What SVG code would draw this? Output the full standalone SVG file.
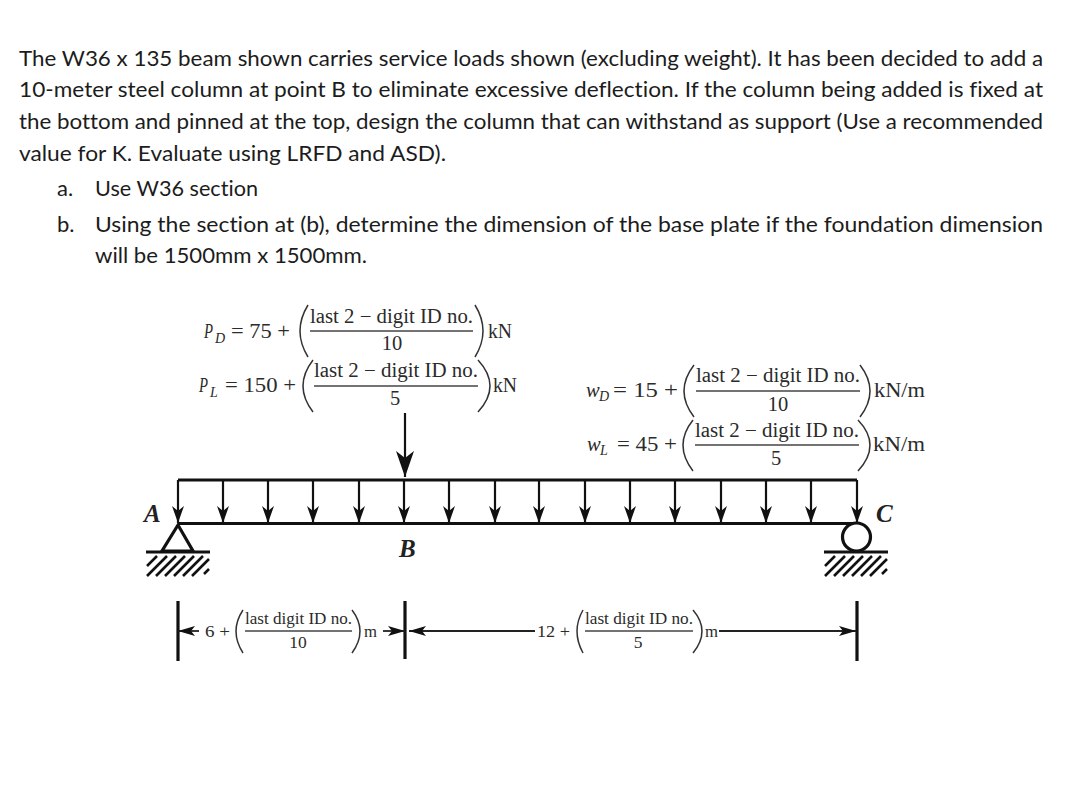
<svg xmlns="http://www.w3.org/2000/svg" width="1080" height="796" viewBox="0 0 1080 796">
<style>
.body{font-family:"Lato","Open Sans",sans-serif;font-size:22px;fill:#1c1c1c;font-variant-ligatures:none}
.eq{font-family:"Liberation Serif",serif;font-size:20.5px;fill:#2b2b2b}
.dim{font-family:"Liberation Serif",serif;font-size:17.5px;fill:#2b2b2b}
.it{font-style:italic}
.sub{font-family:"Liberation Serif",serif;font-style:italic;font-size:14px;fill:#2b2b2b}
.lab{font-family:"Liberation Serif",serif;font-style:italic;font-weight:bold;font-size:25px;fill:#222}
.mid{text-anchor:middle}
.frac{stroke:#444;stroke-width:1.3;fill:none}
.paren{stroke:#333;stroke-width:1.5;fill:none}
.bar{stroke:#111;stroke-width:3;fill:none}
.load{stroke:#111;stroke-width:2.2;fill:none;marker-end:url(#barb)}
.thick{stroke:#111;stroke-width:3.2;fill:none}
.dimline{stroke:#222;stroke-width:1.8;fill:none}
.hatch{stroke:#111;stroke-width:2.6;fill:none}
</style>
<defs>
<marker id="barb" markerUnits="userSpaceOnUse" markerWidth="20" markerHeight="16" refX="17" refY="7" orient="auto"><path d="M17 7L0 1L5 7L0 13Z" fill="#111"/></marker>
<marker id="barbBig" markerUnits="userSpaceOnUse" markerWidth="28" markerHeight="20" refX="26" refY="10" orient="auto"><path d="M26 10L0 1L7 10L0 19Z" fill="#111"/></marker>
<marker id="dimHead" markerUnits="userSpaceOnUse" markerWidth="20" markerHeight="12" refX="17" refY="6" orient="auto"><path d="M17 6L0 1L4 6L0 11Z" fill="#111"/></marker>
</defs>
<rect width="1080" height="796" fill="#fff"/>

<g id="problem-text">
<text class="body" x="19" y="66" textLength="1024" lengthAdjust="spacingAndGlyphs">The W36 x 135 beam shown carries service loads shown (excluding weight). It has been decided to add a</text>
<text class="body" x="19" y="97" textLength="1024" lengthAdjust="spacingAndGlyphs">10-meter steel column at point B to eliminate excessive deflection. If the column being added is fixed at</text>
<text class="body" x="19" y="128.500" textLength="1024" lengthAdjust="spacingAndGlyphs">the bottom and pinned at the top, design the column that can withstand as support (Use a recommended</text>
<text class="body" x="19" y="161" textLength="427" lengthAdjust="spacingAndGlyphs">value for K. Evaluate using LRFD and ASD).</text>
<text class="body" x="57" y="196">a.</text>
<text class="body" x="95" y="196" textLength="163" lengthAdjust="spacingAndGlyphs">Use W36 section</text>
<text class="body" x="57" y="232">b.</text>
<text class="body" x="95" y="232" textLength="948" lengthAdjust="spacingAndGlyphs">Using the section at (b), determine the dimension of the base plate if the foundation dimension</text>
<text class="body" x="95" y="263" textLength="272" lengthAdjust="spacingAndGlyphs">will be 1500mm x 1500mm.</text>
</g>

<g id="eq-pd">
<text class="eq it" x="204" y="338" textLength="9" lengthAdjust="spacingAndGlyphs">P</text><text class="sub" x="215" y="343">D</text>
<text class="eq" x="231" y="338" textLength="59" lengthAdjust="spacingAndGlyphs">= 75 +</text>
<path class="paren" d="M308 305Q292 331 308 357"/>
<text class="eq" x="310" y="323" textLength="163" lengthAdjust="spacingAndGlyphs">last 2 − digit ID no.</text>
<path class="frac" d="M310 331H473"/>
<text class="eq mid" x="392" y="350">10</text>
<path class="paren" d="M475 305Q491 331 475 357"/>
<text class="eq" x="488" y="338" textLength="24" lengthAdjust="spacingAndGlyphs">kN</text>
</g>
<g id="eq-pl">
<text class="eq it" x="199" y="392" textLength="9" lengthAdjust="spacingAndGlyphs">P</text><text class="sub" x="210" y="397">L</text>
<text class="eq" x="225" y="392" textLength="71" lengthAdjust="spacingAndGlyphs">= 150 +</text>
<path class="paren" d="M313 360Q293 386 313 412"/>
<text class="eq" x="314" y="377" textLength="164" lengthAdjust="spacingAndGlyphs">last 2 − digit ID no.</text>
<path class="frac" d="M314 386H478"/>
<text class="eq mid" x="395" y="405">5</text>
<path class="paren" d="M478 360Q502 386 478 412"/>
<text class="eq" x="493" y="392" textLength="24" lengthAdjust="spacingAndGlyphs">kN</text>
</g>
<g id="eq-wd">
<text class="eq it" x="586" y="397">w</text><text class="sub" x="599" y="401">D</text>
<text class="eq" x="613" y="397" textLength="65" lengthAdjust="spacingAndGlyphs">= 15 +</text>
<path class="paren" d="M694 365Q674 391 694 417"/>
<text class="eq" x="696" y="382" textLength="164" lengthAdjust="spacingAndGlyphs">last 2 − digit ID no.</text>
<path class="frac" d="M696 391H860"/>
<text class="eq mid" x="778" y="411">10</text>
<path class="paren" d="M860 365Q880 391 860 417"/>
<text class="eq" x="874" y="397" textLength="51" lengthAdjust="spacingAndGlyphs">kN/m</text>
</g>
<g id="eq-wl">
<text class="eq it" x="587" y="451">w</text><text class="sub" x="600" y="455">L</text>
<text class="eq" x="617" y="451" textLength="60" lengthAdjust="spacingAndGlyphs">= 45 +</text>
<path class="paren" d="M693 420Q673 445 693 471"/>
<text class="eq" x="695" y="437" textLength="164" lengthAdjust="spacingAndGlyphs">last 2 − digit ID no.</text>
<path class="frac" d="M695 445H859"/>
<text class="eq mid" x="776" y="465">5</text>
<path class="paren" d="M858 420Q882 445 858 471"/>
<text class="eq" x="873" y="451" textLength="52" lengthAdjust="spacingAndGlyphs">kN/m</text>
</g>

<g id="beam"><path class="thick" d="M178 523.500H857"/></g>
<g id="support-a">
<path class="thick" d="M178 525L162 551H193Z"/>
<path class="thick" d="M146 552H210"/>
<path class="hatch" d="M147 566L157 556M147 576L167 556M156 576L176 556M165 576L185 556M174 576L194 556M183 576L203 556M192 576L209 559M204 574L209 569"/>
</g>
<g id="support-c">
<circle cx="856.500" cy="537" r="14" fill="#fff" stroke="#111" stroke-width="3.2"/>
<path class="thick" d="M824 552H888"/>
<path class="hatch" d="M825 566L835 556M825 576L845 556M834 576L854 556M843 576L863 556M852 576L872 556M861 576L881 556M870 576L887 559M882 574L887 569"/>
</g>
<g id="label-a"><text class="lab" x="144" y="522">A</text></g>
<g id="label-b"><text class="lab" x="399" y="557">B</text></g>
<g id="label-c"><text class="lab" x="876" y="522">C</text></g>

<g id="connectors">
<path class="bar" d="M178 480H857"/>
<path class="load" d="M178 480V523"/>
<path class="load" d="M223 480V523"/>
<path class="load" d="M268 480V523"/>
<path class="load" d="M313 480V523"/>
<path class="load" d="M359 480V523"/>
<path class="load" d="M404 480V523"/>
<path class="load" d="M449 480V523"/>
<path class="load" d="M495 480V523"/>
<path class="load" d="M539 480V523"/>
<path class="load" d="M585 480V523"/>
<path class="load" d="M630 480V523"/>
<path class="load" d="M675 480V523"/>
<path class="load" d="M721 480V523"/>
<path class="load" d="M766 480V523"/>
<path class="load" d="M811 480V523"/>
<path class="load" d="M857 480V523"/>
<path d="M405 413V477" stroke="#111" stroke-width="2.2" fill="none" marker-end="url(#barbBig)"/>
<path class="thick" d="M178 601V661M405 601V659M857 601V661"/>
<path class="dimline" d="M199 631H178" marker-end="url(#dimHead)"/>
<path class="dimline" d="M383 631H405" marker-end="url(#dimHead)"/>
<path class="dimline" d="M535 631H409" marker-end="url(#dimHead)"/>
<path class="dimline" d="M719 631H856" marker-end="url(#dimHead)"/>
</g>

<g id="dim-ab">
<text class="dim" x="205" y="637" textLength="25" lengthAdjust="spacingAndGlyphs">6 +</text>
<path class="paren" d="M243 610Q229 631 243 653"/>
<text class="dim" x="245" y="624" textLength="107" lengthAdjust="spacingAndGlyphs">last digit ID no.</text>
<path class="frac" d="M245 631H352"/>
<text class="dim mid" x="298" y="648">10</text>
<path class="paren" d="M352 610Q368 631 352 653"/>
<text class="dim" x="364" y="637" textLength="13" lengthAdjust="spacingAndGlyphs">m</text>
</g>
<g id="dim-bc">
<text class="dim" x="537" y="637" textLength="33" lengthAdjust="spacingAndGlyphs">12 +</text>
<path class="paren" d="M583 610Q571 631 583 653"/>
<text class="dim" x="585" y="624" textLength="108" lengthAdjust="spacingAndGlyphs">last digit ID no.</text>
<path class="frac" d="M585 631H693"/>
<text class="dim mid" x="638" y="648">5</text>
<path class="paren" d="M693 610Q711 631 693 653"/>
<text class="dim" x="705" y="637" textLength="13" lengthAdjust="spacingAndGlyphs">m</text>
</g>
</svg>
